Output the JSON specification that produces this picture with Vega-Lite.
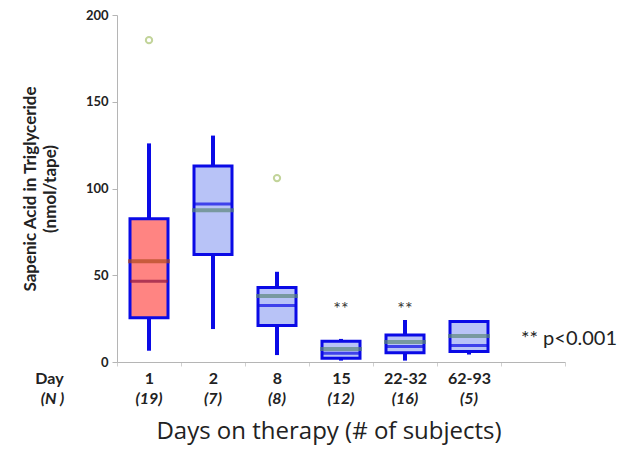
{
  "$schema": "https://vega.github.io/schema/vega-lite/v6.json",
  "width": 448,
  "height": 347,
  "autosize": {"type": "none"},
  "padding": {"left": 117, "top": 15, "right": 65, "bottom": 98},
  "background": "white",
  "config": {"view": {"stroke": null}, "font": "Lato"},
  "title": {"text": "Days on therapy (# of subjects)", "orient": "bottom", "fontSize": 24, "fontWeight": "normal", "font": "Open Sans", "color": "#222222", "offset": 14, "dx": -12},
  "datasets": {
    "boxes": [
      {"day": "1 (19)", "lower": 6.5, "q1": 25.5, "median": 46.5, "mean": 58, "q3": 82.5, "upper": 126},
      {"day": "2 (7)", "lower": 19, "q1": 62, "median": 91, "mean": 87.5, "q3": 113, "upper": 130.5},
      {"day": "8 (8)", "lower": 4, "q1": 21, "median": 32.5, "mean": 38, "q3": 43, "upper": 52},
      {"day": "15 (12)", "lower": 0.8, "q1": 2.2, "median": 5, "mean": 7.5, "q3": 12, "upper": 13.3},
      {"day": "22-32 (16)", "lower": 0.8, "q1": 5.3, "median": 9, "mean": 11.5, "q3": 15.6, "upper": 24.2},
      {"day": "62-93 (5)", "lower": 4.3, "q1": 6, "median": 9.5, "mean": 15, "q3": 23.3, "upper": 23.3}
    ],
    "outliers": [
      {"day": "1 (19)", "value": 185.5},
      {"day": "8 (8)", "value": 106}
    ],
    "stars": [
      {"day": "15 (12)", "label": "**"},
      {"day": "22-32 (16)", "label": "**"}
    ],
    "note": [{"label": "** p<0.001"}]
  },
  "layer": [
    {
      "data": {"name": "boxes"},
      "mark": {"type": "rule", "color": "#0a0ae6", "strokeWidth": 4},
      "encoding": {
        "x": {
          "field": "day", "type": "nominal", "sort": null,
          "scale": {"domain": ["1 (19)", "2 (7)", "8 (8)", "15 (12)", "22-32 (16)", "62-93 (5)", " "], "paddingInner": 0, "paddingOuter": 0},
          "axis": {
            "orient": "bottom", "title": "Day", "labelExpr": "isString(datum.value) ? split(datum.value, ' ')[0] : ''", "labelAngle": 0,
            "labelFont": "Lato", "labelFontSize": 16, "labelFontWeight": "bold", "labelColor": "#222222", "labelPadding": 4,
            "domainColor": "#b5b5b5", "tickColor": "#d0d0d0", "tickSize": 4, "tickBand": "extent",
            "titleX": -68, "titleY": 16, "titleAlign": "center", "titleBaseline": "middle", "titleAngle": 0,
            "titleFont": "Lato", "titleFontSize": 16, "titleFontWeight": "bold", "titleColor": "#222222"
          }
        },
        "y": {
          "field": "lower", "type": "quantitative",
          "scale": {"domain": [0, 200], "nice": false},
          "axis": {
            "title": ["Sapenic Acid in Triglyceride", "(nmol/tape)"], "values": [0, 50, 100, 150, 200], "grid": false,
            "labelFont": "Lato", "labelFontSize": 13, "labelFontWeight": "bold", "labelColor": "#222222", "labelPadding": 4,
            "domainColor": "#b5b5b5", "tickColor": "#b5b5b5", "tickSize": 5,
            "titleFont": "Lato", "titleFontSize": 17, "titleFontWeight": "bold", "titleColor": "#222222", "titleLineHeight": 20, "titlePadding": 26
          }
        },
        "y2": {"field": "upper"}
      }
    },
    {
      "data": {"name": "boxes"},
      "mark": {"type": "bar", "size": 38, "stroke": "#0a0ae6", "strokeWidth": 3},
      "encoding": {
        "x": {
          "field": "day", "type": "nominal", "sort": null,
          "axis": {
            "orient": "bottom", "offset": 25, "domain": false, "ticks": false, "title": "(N )",
            "labelExpr": "isString(datum.value) ? split(datum.value, ' ')[1] : ''", "labelAngle": 0,
            "labelFont": "Lato", "labelFontSize": 16, "labelFontWeight": "bold", "labelFontStyle": "italic", "labelColor": "#222222", "labelPadding": 3,
            "titleX": -65, "titleY": 11, "titleAlign": "center", "titleBaseline": "middle", "titleAngle": 0,
            "titleFont": "Lato", "titleFontSize": 16, "titleFontWeight": "bold", "titleFontStyle": "italic", "titleColor": "#222222"
          }
        },
        "y": {"field": "q1", "type": "quantitative"},
        "y2": {"field": "q3"},
        "fill": {"condition": {"test": "datum.day === '1 (19)'", "value": "#ff8482"}, "value": "#b8c3f7"}
      }
    },
    {
      "data": {"name": "boxes"},
      "mark": {"type": "tick", "size": 38, "thickness": 3},
      "encoding": {
        "x": {"field": "day", "type": "nominal", "sort": null, "axis": null},
        "y": {"field": "median", "type": "quantitative"},
        "color": {"condition": {"test": "datum.day === '1 (19)'", "value": "#8e1640"}, "value": "#0a0ae6"}
      }
    },
    {
      "data": {"name": "boxes"},
      "mark": {"type": "tick", "size": 42, "thickness": 4},
      "encoding": {
        "x": {"field": "day", "type": "nominal", "sort": null, "axis": null},
        "y": {"field": "mean", "type": "quantitative"},
        "color": {"condition": {"test": "datum.day === '1 (19)'", "value": "#b04a1e"}, "value": "#5d877a"}
      }
    },
    {
      "data": {"name": "outliers"},
      "mark": {"type": "point", "filled": false, "size": 40, "strokeWidth": 2, "color": "#c2d49a", "fill": "white", "fillOpacity": 1},
      "encoding": {
        "x": {"field": "day", "type": "nominal", "sort": null, "axis": null},
        "y": {"field": "value", "type": "quantitative"}
      }
    },
    {
      "data": {"name": "stars"},
      "mark": {"type": "text", "fontSize": 18, "font": "Lato", "color": "#333333", "baseline": "middle"},
      "encoding": {
        "x": {"field": "day", "type": "nominal", "sort": null, "axis": null},
        "y": {"datum": 30},
        "text": {"field": "label"}
      }
    },
    {
      "data": {"name": "note"},
      "mark": {"type": "text", "fontSize": 20, "font": "Lato", "color": "#222222", "align": "left", "baseline": "middle", "dx": -12},
      "encoding": {
        "x": {"datum": " ", "axis": null},
        "y": {"datum": 13},
        "text": {"field": "label"}
      }
    }
  ],
  "resolve": {"axis": {"x": "independent"}}
}
